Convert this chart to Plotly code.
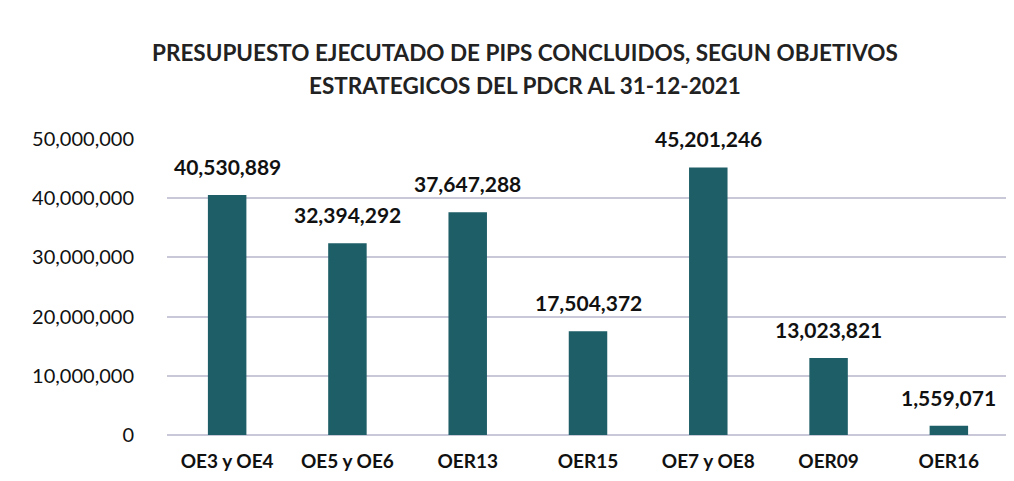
import plotly.graph_objects as go

categories = ["OE3 y OE4", "OE5 y OE6", "OER13", "OER15", "OE7 y OE8", "OER09", "OER16"]
values = [40530889, 32394292, 37647288, 17504372, 45201246, 13023821, 1559071]
tick_vals = [0, 10000000, 20000000, 30000000, 40000000, 50000000]
tick_text = ["0", "10,000,000", "20,000,000", "30,000,000", "40,000,000", "50,000,000"]
title_lines = ["PRESUPUESTO EJECUTADO DE PIPS CONCLUIDOS, SEGUN OBJETIVOS",
               "ESTRATEGICOS DEL PDCR AL 31-12-2021"]

font = "Lato, 'Open Sans', sans-serif"
W, H = 1014, 481
ML, MR, MT, MB = 159, 13, 131, 54
plot_w = W - ML - MR
plot_h = H - MT - MB

fig = go.Figure(go.Bar(
    x=categories, y=values,
    marker=dict(color="#1e5e67", line=dict(width=0)),
    cliponaxis=False,
    hoverinfo="x+y",
))

# value labels above bars
for c, v in zip(categories, values):
    fig.add_annotation(
        x=c, y=v, xref="x", yref="y", text=f"<b>{v:,}</b>",
        showarrow=False, yanchor="bottom", yshift=14,
        font=dict(family=font, size=21, color="#111111"),
    )

# two-line title (positions given in pixels, converted to paper coords)
title_center_x = 517
title_center_y = [45, 77]
for line, py in zip(title_lines, title_center_y):
    fig.add_annotation(
        x=(title_center_x - ML) / plot_w, xref="paper",
        y=(H - MB - py) / plot_h, yref="paper",
        text=f"<b>{line}</b>",
        showarrow=False, xanchor="center", yanchor="middle",
        font=dict(family=font, size=22.5, color="#222222"),
    )

fig.update_layout(
    width=W, height=H,
    paper_bgcolor="white", plot_bgcolor="white",
    margin=dict(l=ML, r=MR, t=MT, b=MB),
    bargap=0.68,
    showlegend=False,
    font=dict(family=font, color="#111111"),
)

fig.update_xaxes(
    showgrid=False, showline=False, ticks="", automargin=False,
    ticklabelstandoff=13,
    tickfont=dict(family=font, size=19, color="#111111", weight="bold"),
)
fig.update_yaxes(
    range=[0, 50000000], tickvals=tick_vals, ticktext=tick_text,
    showgrid=True, gridcolor="#c9c8d8", gridwidth=1.5,
    zeroline=True, zerolinecolor="#c9c8d8", zerolinewidth=1.5,
    showline=False, ticks="", ticklabelstandoff=32, automargin=False,
    tickfont=dict(family=font, size=20, color="#111111"),
)

fig.write_html("out.html")
